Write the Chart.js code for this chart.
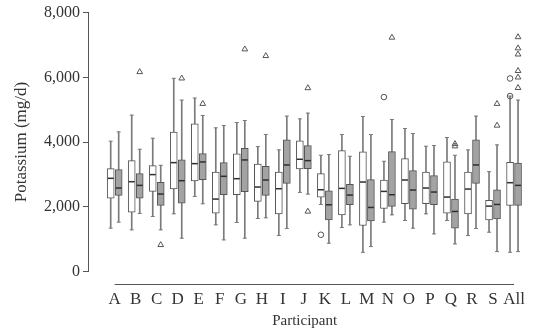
<!DOCTYPE html>
<html>
<head>
<meta charset="utf-8">
<script src="https://cdn.jsdelivr.net/npm/chart.js@4/dist/chart.umd.min.js"></script>
<style>
html,body{margin:0;padding:0;background:#fff;}
#wrap{width:535px;height:331px;}
</style>
</head>
<body>
<div id="wrap"><canvas id="c" width="535" height="331"></canvas></div>
<script>
// Categories (participants)
const categories = ['A','B','C','D','E','F','G','H','I','J','K','L','M','N','O','P','Q','R','S','All'];

// White series: [min whisker, Q1, median, Q3, max whisker]
const whiteLow    = [1339,1287,1700,1783,2320,1442,1514,1638,1111,2444,2072,1359, 594,1525,1576,1783,1576,1111,1214, 594];
const whiteQ1     = [2269,1835,2476,2548,2796,1804,2372,2165,1783,3168,2300,1752,1421,1948,2093,2093,1804,1783,1597,2041];
const whiteMedian = [2879,2775,2994,3364,3333,2238,2868,2610,2558,3468,2527,2568,2765,2475,2827,2579,2300,2548,2020,2744];
const whiteQ3     = [3178,3426,3271,4305,4563,3075,3633,3323,3075,4036,3023,3737,3695,2827,3488,3075,3385,3075,2196,3375];
const whiteHigh   = [4026,4832,4119,5969,5359,4439,4604,3860,3757,4718,3592,4233,4791,3406,4419,3871,4140,3757,3085,5421];

// Grey series
const greyLow    = [1525,1793,1287,1028,2093, 977,1028,1659,1328,2393, 873,1442, 770,1752,1339,1163, 853,1328, 615, 615];
const greyQ1     = [2351,2269,2041,2114,2837,2372,2465,2351,2724,3178,1597,2062,1566,2010,1928,2062,1339,2724,1628,2041];
const greyMedian = [2579,2661,2393,2806,3385,2941,3447,2827,3292,3426,2062,2362,1979,2372,2517,2455,1855,3292,2072,2661];
const greyQ3     = [3147,3023,2755,3447,3643,3364,3809,3251,4067,3892,2496,2692,2837,3706,3116,2961,2238,4067,2527,3354];
const greyHigh   = [4315,3778,3282,5297,4822,4511,4666,4233,4801,4894,3613,3561,4233,4697,4264,3892,3592,4801,3912,5297];

// Outliers: [category, value]
const whiteOutliers = [['K',1135],['N',5390],['All',5421],['All',5965]];
const greyOutliers  = [['B',6166],['C',822],['D',5969],['E',5183],['G',6868],['H',6662],['J',5669],['J',1855],
                       ['N',7230],['Q',3943],['Q',3871],['S',5183],['S',4511],
                       ['All',7245],['All',6900],['All',6710],['All',6200],['All',6000],['All',5675]];

// y ticks
const yTicks = [0,2000,4000,6000,8000];

const OFF = 0.19;
const idx = c => categories.indexOf(c);
const range = (lo, hi, d) => categories.map((c,i)=>({x:i+d, y:[lo[i], hi[i]]}));
const pts = (arr, d) => categories.map((c,i)=>({x:i+d, y:arr[i]}));
const outPts = (list, d) => list.map(([c,v])=>({x:idx(c)+d, y:v}));

const WH = '#7a7a7a', EDGE = '#555555', MED = '#2e2e2e';

const axisLinePlugin = {
  id:'axisLine',
  afterDraw(chart){
    const xs = chart.scales.x, ctx = chart.ctx;
    const y = Math.round(chart.chartArea.bottom + 12.5) + 0.5;
    ctx.save();
    ctx.strokeStyle = EDGE; ctx.lineWidth = 1;
    ctx.beginPath();
    ctx.moveTo(xs.getPixelForValue(0), y);
    ctx.lineTo(xs.getPixelForValue(categories.length-1), y);
    ctx.stroke();
    ctx.restore();
  }
};

const barCommon = {type:'bar', grouped:false, borderSkipped:false, clip:false};
new Chart(document.getElementById('c'), {
  type:'bar',
  data:{datasets:[
    {...barCommon, data:range(whiteLow, whiteHigh, -OFF), barThickness:1, backgroundColor:WH, borderWidth:0, order:10},
    {...barCommon, data:range(greyLow, greyHigh, OFF), barThickness:1, backgroundColor:WH, borderWidth:0, order:10},
    {...barCommon, data:range(whiteQ1, whiteQ3, -OFF), barThickness:7, backgroundColor:'#ffffff', borderColor:EDGE, borderWidth:1, order:5},
    {...barCommon, data:range(greyQ1, greyQ3, OFF), barThickness:7, backgroundColor:'#a3a3a3', borderColor:EDGE, borderWidth:1, order:5},
    {type:'scatter', clip:false, data:pts(whiteHigh,-OFF).concat(pts(whiteLow,-OFF)), pointStyle:'line', pointRadius:2, borderColor:WH, borderWidth:1, order:3},
    {type:'scatter', clip:false, data:pts(greyHigh,OFF).concat(pts(greyLow,OFF)), pointStyle:'line', pointRadius:2, borderColor:WH, borderWidth:1, order:3},
    {type:'scatter', clip:false, data:pts(whiteMedian,-OFF), pointStyle:'line', pointRadius:3, borderColor:MED, borderWidth:1.5, order:1},
    {type:'scatter', clip:false, data:pts(greyMedian,OFF), pointStyle:'line', pointRadius:3, borderColor:MED, borderWidth:1.5, order:1},
    {type:'scatter', clip:false, data:outPts(whiteOutliers,-OFF), pointStyle:'circle', pointRadius:2.8, borderColor:EDGE, backgroundColor:'rgba(255,255,255,0)', borderWidth:1, order:0},
    {type:'scatter', clip:false, data:outPts(greyOutliers,OFF), pointStyle:'triangle', pointRadius:3.3, borderColor:EDGE, backgroundColor:'rgba(255,255,255,0)', borderWidth:1, order:0}
  ]},
  options:{
    responsive:false, animation:false,
    layout:{padding:{left:0,right:5,top:5,bottom:0}},
    plugins:{legend:{display:false}, tooltip:{enabled:false}},
    scales:{
      x:{type:'linear', min:-1.27, max:19.35, offset:false,
        grid:{display:false, offset:false}, border:{display:false},
        afterBuildTicks:(s)=>{ s.ticks = categories.map((c,i)=>({value:i})); },
        afterFit:(s)=>{ s.height = 59.5; },
        ticks:{autoSkip:false, maxRotation:0, padding:10, color:'#333',
          font:{family:'"Liberation Serif", "DejaVu Serif", serif', size:17},
          callback:(v)=>categories[v]},
        title:{display:true, text:'Participant', color:'#333', padding:{top:0,bottom:1},
          font:{family:'"Liberation Serif", "DejaVu Serif", serif', size:15}}
      },
      y:{min:0, max:8000,
        afterBuildTicks:(s)=>{ s.ticks = yTicks.map(v=>({value:v})); },
        afterFit:(s)=>{ s.width = 88; },
        grid:{drawOnChartArea:false, drawTicks:true, tickLength:5, color:EDGE},
        border:{display:true, color:EDGE},
        ticks:{padding:3, color:'#333', font:{family:'"Liberation Serif", "DejaVu Serif", serif', size:16},
          callback:(v)=>v.toLocaleString('en-US')},
        title:{display:true, text:'Potassium (mg/d)', color:'#333', padding:{top:11,bottom:0},
          font:{family:'"Liberation Serif", "DejaVu Serif", serif', size:17}}
      }
    }
  },
  plugins:[axisLinePlugin]
});
</script>
</body>
</html>
